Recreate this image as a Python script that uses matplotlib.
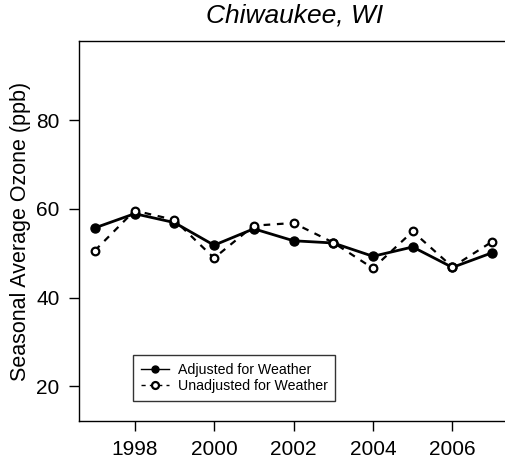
import matplotlib
matplotlib.use("Agg")
import matplotlib.pyplot as plt

years = [1997, 1998, 1999, 2000, 2001, 2002, 2003, 2004, 2005, 2006, 2007]
adjusted = [55.7, 58.9, 56.9, 51.8, 55.5, 52.8, 52.3, 49.3, 51.4, 46.8, 50.1]
unadjusted = [50.6, 59.6, 57.5, 48.9, 56.2, 56.8, 52.4, 46.6, 54.9, 46.9, 52.6]
xticks = [1998, 2000, 2002, 2004, 2006]
yticks = [20, 40, 60, 80]

plt.rcParams['font.family'] = ['Liberation Sans', 'DejaVu Sans']

fig = plt.figure(figsize=(5.06, 4.66), dpi=100)
ax = fig.add_axes([79/506, 45/466, 431/506, 380/466])

ax.plot(years, adjusted, color='black', lw=2.0, ls='-', marker='o',
        markersize=6.5, markerfacecolor='black', markeredgecolor='black',
        label='Adjusted for Weather')
ax.plot(years, unadjusted, color='black', lw=1.6, ls=(0, (3, 3)), marker='o',
        markersize=5.5, markerfacecolor='white', markeredgecolor='black',
        markeredgewidth=1.6, label='Unadjusted for Weather')

ax.set_xlim(1996.6, 2007.45)
ax.set_ylim(12.2, 97.8)
ax.set_xticks(xticks)
ax.set_yticks(yticks)
ax.tick_params(direction='out', length=7, width=1, labelsize=15, pad=7)
for s in ax.spines.values():
    s.set_linewidth(1)
ax.spines['right'].set_visible(False)
ax.set_ylabel('Seasonal Average Ozone (ppb)', fontsize=15.5, labelpad=4)
ax.set_title('Chiwaukee, WI', fontsize=19, style='italic', pad=13)

leg = ax.legend(loc='lower left', bbox_to_anchor=((133-79)/431, (421-401)/380),
                fontsize=10.2, frameon=True, fancybox=False, edgecolor='black',
                handlelength=2.0, handletextpad=0.6, borderpad=0.55, labelspacing=0.15,
                borderaxespad=0)
leg.get_frame().set_linewidth(1)
for h in leg.get_lines():
    h.set_linewidth(1.0)
    h.set_markersize(5)

fig.savefig('out.png', dpi=100)
